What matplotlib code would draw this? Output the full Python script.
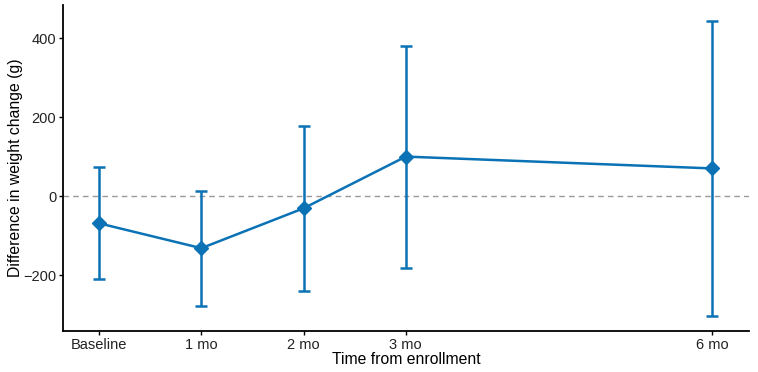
import matplotlib.pyplot as plt
import numpy as np

plt.rcParams['font.family'] = ['Liberation Sans', 'DejaVu Sans']

months = [0, 1, 2, 3, 6]
tick_labels = ['Baseline', '1 mo', '2 mo', '3 mo', '6 mo']
diff = [-69, -132, -31, 100, 70]
upper = [74, 13, 178, 380, 443]
lower = [-210, -278, -240, -182, -303]

diff = np.array(diff)
yerr = [diff - np.array(lower), np.array(upper) - diff]

fig = plt.figure(figsize=(7.58, 3.72), dpi=100)
ax = fig.add_axes([63.3 / 758, 1 - 330.7 / 372, (749.3 - 63.3) / 758, (330.7 - 5) / 372])

ax.axhline(0, color='#9a9a9a', lw=1.0, ls=(0, (4, 3)), zorder=1)
ax.errorbar(months, diff, yerr=yerr, color='#0a72b5', lw=1.8, capsize=4.5, capthick=1.8,
            marker='D', markersize=7, zorder=3)

ax.set_xlim(-0.35, 6.36)
ax.set_ylim(-341, 484)
ax.set_xticks(months)
ax.set_xticklabels(tick_labels)
ax.set_yticks([-200, 0, 200, 400])
ax.tick_params(labelsize=10.5, length=3, width=1, pad=2, colors='black', labelcolor='#222222')

for s in ['top', 'right']:
    ax.spines[s].set_visible(False)
for s in ['left', 'bottom']:
    ax.spines[s].set_linewidth(1.3)

ax.set_xlabel('Time from enrollment', fontsize=11.3, labelpad=0.5)
ax.set_ylabel('Difference in weight change (g)', fontsize=11.3, labelpad=0.5)

fig.savefig('out.png', dpi=100)
